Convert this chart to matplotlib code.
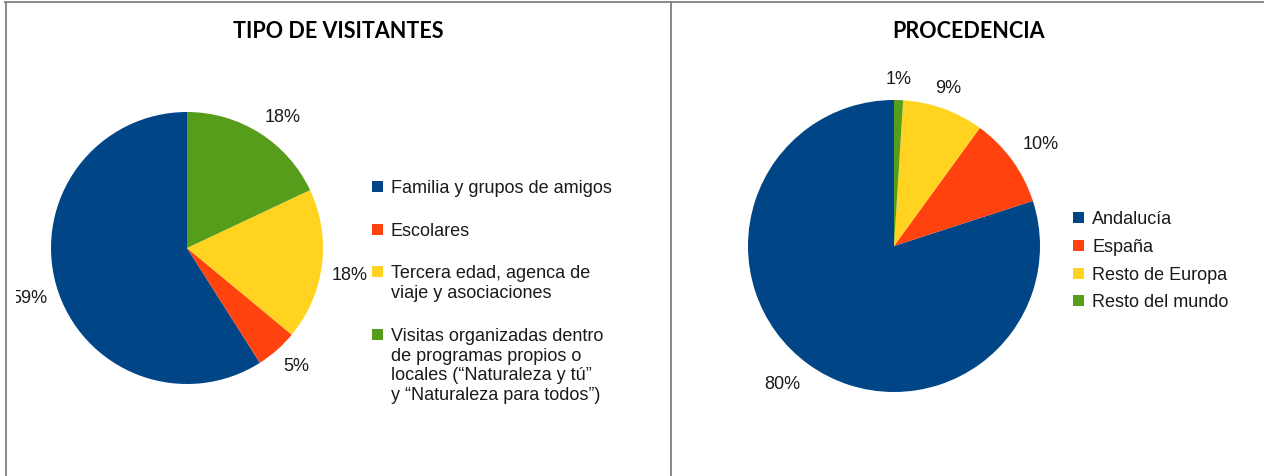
import matplotlib
matplotlib.use("Agg")
import numpy as np
import matplotlib.pyplot as plt
from matplotlib.lines import Line2D
from matplotlib.patches import Rectangle
from matplotlib.transforms import Bbox

W, H = 1264, 477

tipo_labels = ["Familia y grupos de amigos", "Escolares",
               "Tercera edad, agenca de\nviaje y asociaciones",
               "Visitas organizadas dentro\nde programas propios o\nlocales (\u201cNaturaleza y t\u00fa\u201d\ny \u201cNaturaleza para todos\u201d)"]
tipo_values = [59, 5, 18, 18]

proc_labels = ["Andaluc\u00eda", "Espa\u00f1a", "Resto de Europa", "Resto del mundo"]
proc_values = [80, 10, 9, 1]

colors = ["#004586", "#ff420e", "#ffd320", "#579d1c"]
TXT = dict(fontsize=13, color="#1a1a1a", family="Liberation Sans")

fig = plt.figure(figsize=(W / 100, H / 100), dpi=100)


def px(x, y):
    return x / W, 1 - y / H


def pie_at(cx, cy, r, values, dist=1.09):
    x0, y0 = px(cx - r, cy + r)
    ax = fig.add_axes([x0, y0, 2 * r / W, 2 * r / H])
    wedges, _ = ax.pie(values, colors=colors, startangle=90, counterclock=True,
                       radius=1, wedgeprops=dict(linewidth=0))
    ax.set_xlim(-1, 1)
    ax.set_ylim(-1, 1)
    ax.set_aspect("equal")
    ax.axis("off")
    # percentage labels sit just outside the rim, pushed away from it
    total = sum(values)
    texts = []
    for w, v in zip(wedges, values):
        a = np.deg2rad((w.theta1 + w.theta2) / 2)
        c, s = np.cos(a), np.sin(a)
        ha = "left" if c > 0.35 else ("right" if c < -0.35 else "center")
        va = "bottom" if s > 0.1 else ("top" if s < -0.1 else "center")
        texts.append(ax.text(dist * c, dist * s, f"{100 * v / total:.0f}%",
                             ha=ha, va=va, clip_on=False, **TXT))
    return ax, texts


ax1, pct1 = pie_at(187, 249, 136, tipo_values, dist=1.07)
ax2, pct2 = pie_at(894, 247, 146, proc_values)

# left plot area cuts off the outer label
clip = Bbox.from_extents(16, 0, 670, H)
for t in pct1:
    t.set_clip_box(clip)
    t.set_clip_on(True)

fig.text(*px(338, 31), "TIPO DE VISITANTES", ha="center", va="center",
         fontsize=15.5, fontweight="bold", family="Lato", color="black")
fig.text(*px(969, 31), "PROCEDENCIA", ha="center", va="center",
         fontsize=15.5, fontweight="bold", family="Lato", color="black")


def legend(x, ys, labels, sq=11):
    for y, lab, c in zip(ys, labels, colors):
        fig.add_artist(Rectangle(px(x, y + sq / 2), sq / W, sq / H,
                                 transform=fig.transFigure, color=c, lw=0))
        fig.text(*px(x + 19, y - 7), lab, ha="left", va="top",
                 linespacing=1.2, **TXT)


legend(372, [187, 230, 272, 335], tipo_labels)
legend(1073, [218, 246, 274, 301], proc_labels)

# panel frames
frame = dict(color="#808080", lw=1.3, transform=fig.transFigure)
fig.add_artist(Line2D([5 / W, 1], [1 - 2.5 / H] * 2, **frame))
fig.add_artist(Line2D([5.5 / W] * 2, [0, 1 - 2.5 / H], **frame))
fig.add_artist(Line2D([670.5 / W] * 2, [0, 1 - 2.5 / H], **frame))

fig.savefig("out.png", dpi=100)
